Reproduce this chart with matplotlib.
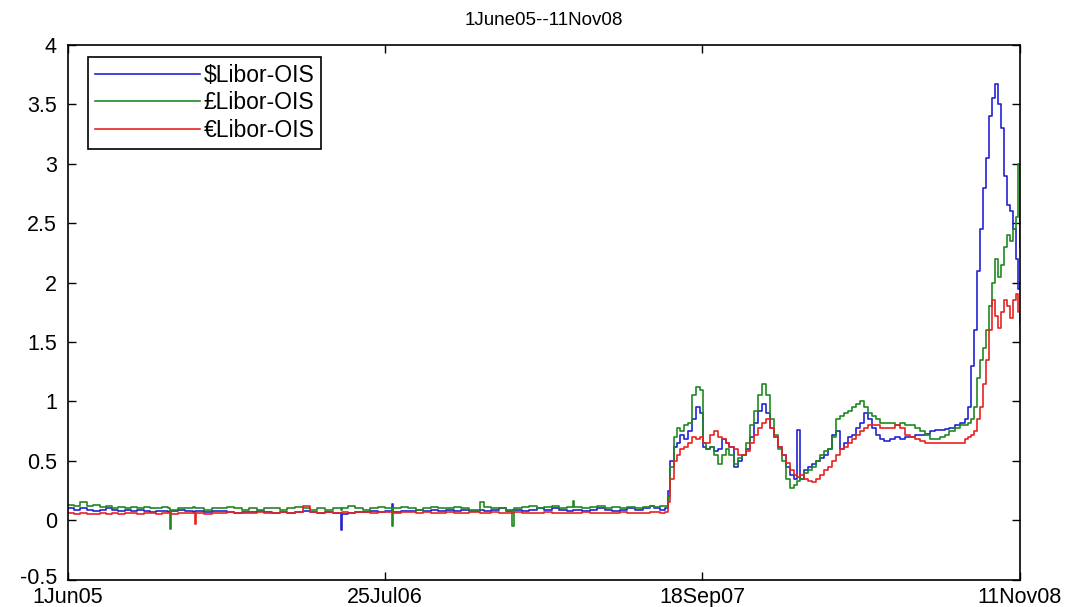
import numpy as np
import matplotlib
matplotlib.use("Agg")
import matplotlib.pyplot as plt
import matplotlib.transforms as mtransforms

# days since 1 Jun 2005
calm_days = [0, 8, 16, 25, 33, 42, 50, 58, 66, 75,
             83, 92, 100, 108, 116, 125, 133, 135, 137, 145,
             155, 166, 168, 170, 180, 190, 200, 210, 220, 230,
             240, 250, 260, 270, 280, 290, 300, 311, 320, 330,
             340, 350, 361, 363, 370, 380, 390, 400, 410, 420,
             428, 430, 440, 450, 460, 470, 480, 490, 500, 510,
             520, 530, 545, 550, 560, 570, 580, 588, 590, 600,
             610, 620, 630, 640, 650, 660, 668, 670, 680, 690,
             700, 710, 720, 730, 740, 750, 760, 770, 775]
crisis_days = [783, 790, 794, 797, 801, 805, 810, 815, 820, 825,
               831, 836, 840, 844, 849, 854, 860, 865, 870, 875,
               881, 886, 891, 897, 902, 907, 913, 918, 923, 928,
               934, 939, 944, 950, 955, 960, 964, 968, 973, 979,
               984, 989, 995, 1000, 1005, 1010, 1016, 1021, 1026, 1032,
               1037, 1042, 1047, 1053, 1058, 1063, 1069, 1074, 1080, 1087,
               1094, 1100, 1107, 1114, 1120, 1127, 1133, 1140, 1147, 1153,
               1160, 1166, 1173, 1180, 1186, 1190, 1194, 1198, 1202, 1206,
               1210, 1214, 1218, 1222, 1226, 1230, 1234, 1238, 1242, 1246,
               1250, 1254, 1256, 1259]

usd_calm = [0.10, 0.09, 0.10, 0.09, 0.08, 0.09, 0.10, 0.09, 0.08, 0.09,
            0.08, 0.09, 0.08, 0.07, 0.08, 0.08, 0.07, 0.08, 0.08, 0.09,
            0.08, 0.07, 0.08, 0.08, 0.07, 0.08, 0.08, 0.07, 0.06, 0.07,
            0.07, 0.08, 0.07, 0.06, 0.07, 0.06, 0.07, 0.08, 0.07, 0.06,
            0.07, 0.06, -0.08, 0.05, 0.06, 0.07, 0.07, 0.08, 0.07, 0.08,
            0.14, 0.07, 0.08, 0.08, 0.09, 0.08, 0.09, 0.08, 0.09, 0.08,
            0.09, 0.08, 0.09, 0.08, 0.09, 0.10, 0.08, 0.09, 0.09, 0.08,
            0.09, 0.10, 0.09, 0.10, 0.09, 0.08, 0.09, 0.09, 0.08, 0.09,
            0.10, 0.09, 0.08, 0.09, 0.10, 0.09, 0.10, 0.12, 0.10]
gbp_calm = [0.13, 0.12, 0.15, 0.12, 0.13, 0.11, 0.12, 0.10, 0.11, 0.10,
            0.11, 0.10, 0.11, 0.10, 0.10, 0.11, 0.10, -0.07, 0.09, 0.10,
            0.10, 0.11, 0.10, 0.10, 0.09, 0.10, 0.10, 0.11, 0.10, 0.09,
            0.10, 0.09, 0.10, 0.10, 0.09, 0.10, 0.11, 0.10, 0.09, 0.10,
            0.09, 0.10, 0.09, 0.10, 0.12, 0.10, 0.09, 0.10, 0.11, 0.10,
            -0.05, 0.10, 0.11, 0.10, 0.09, 0.10, 0.11, 0.10, 0.10, 0.11,
            0.10, 0.09, 0.15, 0.11, 0.10, 0.10, 0.09, -0.05, 0.10, 0.11,
            0.12, 0.10, 0.11, 0.12, 0.10, 0.11, 0.16, 0.11, 0.10, 0.11,
            0.12, 0.10, 0.11, 0.10, 0.11, 0.10, 0.11, 0.12, 0.11]
eur_calm = [0.06, 0.05, 0.06, 0.05, 0.05, 0.06, 0.05, 0.06, 0.05, 0.06,
            0.06, 0.05, 0.06, 0.06, 0.05, 0.06, 0.06, 0.06, 0.05, 0.06,
            0.06, 0.06, -0.03, 0.06, 0.05, 0.06, 0.06, 0.07, 0.06, 0.06,
            0.06, 0.07, 0.06, 0.06, 0.07, 0.06, 0.07, 0.12, 0.07, 0.06,
            0.07, 0.06, 0.06, 0.07, 0.06, 0.07, 0.07, 0.06, 0.07, 0.07,
            0.07, 0.06, 0.07, 0.07, 0.06, 0.07, 0.06, 0.06, 0.07, 0.06,
            0.06, 0.07, 0.06, 0.06, 0.07, 0.06, 0.06, 0.06, 0.07, 0.06,
            0.06, 0.06, 0.07, 0.06, 0.06, 0.06, 0.06, 0.06, 0.07, 0.06,
            0.06, 0.06, 0.06, 0.07, 0.06, 0.06, 0.06, 0.07, 0.07]

usd_crisis = [0.09, 0.10, 0.25, 0.50, 0.62, 0.65, 0.72, 0.68, 0.75, 0.85,
              0.95, 0.90, 0.62, 0.60, 0.62, 0.58, 0.60, 0.68, 0.65, 0.62,
              0.45, 0.50, 0.55, 0.60, 0.70, 0.82, 0.92, 0.98, 0.90, 0.78,
              0.70, 0.62, 0.55, 0.45, 0.38, 0.35, 0.76, 0.35, 0.42, 0.45,
              0.47, 0.50, 0.52, 0.55, 0.60, 0.72, 0.75, 0.60, 0.65, 0.70,
              0.72, 0.78, 0.82, 0.90, 0.85, 0.78, 0.72, 0.68, 0.67, 0.68,
              0.70, 0.68, 0.70, 0.70, 0.72, 0.72, 0.73, 0.75, 0.76, 0.76,
              0.77, 0.78, 0.80, 0.82, 0.85, 0.95, 1.30, 1.60, 2.10, 2.45,
              2.80, 3.05, 3.40, 3.55, 3.67, 3.50, 3.30, 2.90, 2.65, 2.60,
              2.45, 2.20, 1.95, 2.00]
gbp_crisis = [0.12, 0.12, 0.20, 0.45, 0.70, 0.78, 0.75, 0.80, 0.82, 1.05,
              1.12, 1.10, 0.65, 0.60, 0.62, 0.55, 0.47, 0.55, 0.60, 0.55,
              0.47, 0.52, 0.55, 0.65, 0.80, 0.92, 1.05, 1.15, 1.05, 0.85,
              0.72, 0.60, 0.50, 0.35, 0.27, 0.30, 0.33, 0.35, 0.40, 0.42,
              0.45, 0.50, 0.55, 0.58, 0.60, 0.70, 0.85, 0.88, 0.90, 0.92,
              0.95, 0.98, 1.00, 0.95, 0.90, 0.88, 0.85, 0.82, 0.82, 0.82,
              0.80, 0.82, 0.80, 0.80, 0.78, 0.75, 0.72, 0.68, 0.68, 0.70,
              0.72, 0.75, 0.78, 0.80, 0.80, 0.82, 0.85, 0.95, 1.20, 1.35,
              1.45, 1.60, 1.80, 2.00, 2.20, 2.05, 2.15, 2.30, 2.40, 2.35,
              2.45, 2.55, 3.00, 2.30]
eur_crisis = [0.06, 0.07, 0.15, 0.35, 0.50, 0.55, 0.60, 0.62, 0.65, 0.70,
              0.68, 0.70, 0.65, 0.65, 0.72, 0.75, 0.70, 0.68, 0.65, 0.62,
              0.60, 0.55, 0.55, 0.58, 0.65, 0.72, 0.78, 0.82, 0.85, 0.78,
              0.70, 0.62, 0.55, 0.48, 0.42, 0.38, 0.36, 0.38, 0.35, 0.33,
              0.32, 0.35, 0.38, 0.42, 0.45, 0.50, 0.55, 0.60, 0.62, 0.65,
              0.68, 0.72, 0.75, 0.78, 0.80, 0.80, 0.80, 0.78, 0.78, 0.78,
              0.80, 0.78, 0.72, 0.70, 0.68, 0.67, 0.65, 0.65, 0.65, 0.65,
              0.65, 0.65, 0.65, 0.65, 0.68, 0.70, 0.72, 0.75, 0.85, 0.95,
              1.15, 1.35, 1.60, 1.85, 1.72, 1.62, 1.75, 1.85, 1.80, 1.70,
              1.85, 1.90, 1.75, 1.65]

tick_days = [0, 419, 839, 1259]
tick_labels = ["1Jun05", "25Jul06", "18Sep07", "11Nov08"]

days = np.array(calm_days + crisis_days)
usd = np.array(usd_calm + usd_crisis)
gbp = np.array(gbp_calm + gbp_crisis)
eur = np.array(eur_calm + eur_crisis)

plt.rcParams['font.family'] = ['Liberation Sans', 'DejaVu Sans']

fig = plt.figure(figsize=(10.78, 6.07), dpi=100)
ax = fig.add_axes([0.063, 0.045, 0.883, 0.881])

ax.plot(days, usd, color='#2323d6', lw=1.2, drawstyle='steps-post', label=r'\$Libor-OIS')
ax.plot(days, gbp, color='#1f8a1f', lw=1.2, drawstyle='steps-post', label='£Libor-OIS')
ax.plot(days, eur, color='#e62222', lw=1.2, drawstyle='steps-post', label='€Libor-OIS')

ax.set_xlim(0, 1259)
ax.set_ylim(-0.5, 4)
ax.set_xticks(tick_days)
ax.set_xticklabels(tick_labels)
ax.set_yticks([-0.5, 0, 0.5, 1, 1.5, 2, 2.5, 3, 3.5, 4])
ax.set_yticklabels(['-0.5', '0', '0.5', '1', '1.5', '2', '2.5', '3', '3.5', '4'])
ax.tick_params(direction='in', length=6, width=1, labelsize=15.5, top=True, right=True)
ax.tick_params(axis='y', pad=8)
ax.tick_params(axis='x', pad=5)
for s in ax.spines.values():
    s.set_linewidth(1.2)

# lift the lowest y label a little so it clears the first date label
lowest = ax.get_yticklabels()[0]
lowest.set_transform(lowest.get_transform() +
                     mtransforms.ScaledTranslation(0, 3 / 72, fig.dpi_scale_trans))

ax.set_title('1June05--11Nov08', fontsize=13.5, pad=14)

leg = ax.legend(loc='upper left', bbox_to_anchor=(0.021, 0.978), borderaxespad=0,
                fontsize=16.5, handlelength=4.6, handletextpad=0.15, borderpad=0.3,
                labelspacing=0.2, fancybox=False, framealpha=1, edgecolor='black')
leg.get_frame().set_linewidth(1.2)

fig.savefig('out.png', dpi=100)
